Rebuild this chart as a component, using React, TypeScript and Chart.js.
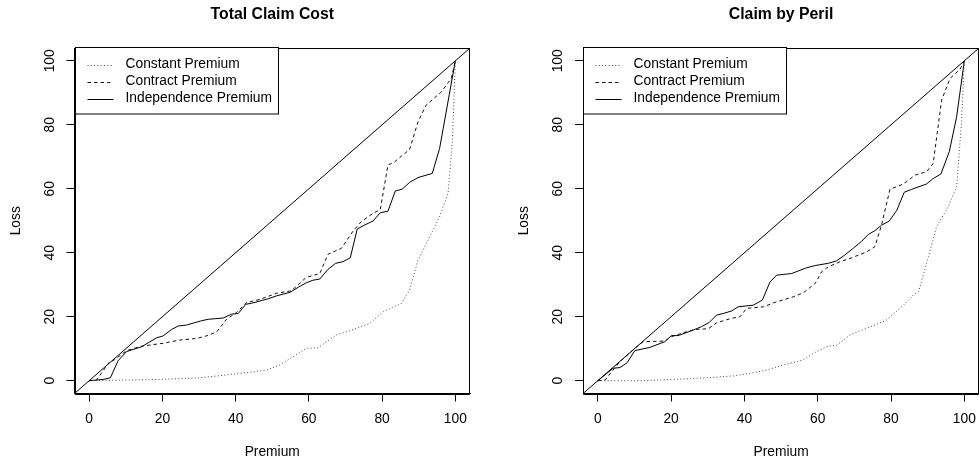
import React, { useEffect, useRef } from "react";
import { Chart, registerables } from "chart.js";

Chart.register(...registerables);

// ---- data ----
const titles = ["Total Claim Cost", "Claim by Peril"];
const legendLabels = ["Constant Premium", "Contract Premium", "Independence Premium"];
const tickValues = [0, 20, 40, 60, 80, 100];
const diagonal = [-4, 104];

const totalIndepX = [0, 3.8, 5.8, 7.9, 10.2, 14.3, 18.4, 20.2, 22.5, 24.3, 26.6, 30.7, 32.5, 36.6, 38.9, 40.7, 42.8, 44.3, 48.9, 51.1, 54.8, 57.1, 59.3, 61.1, 63, 65.2, 67.3, 69.3, 71.3, 73.2, 75.1, 77.5, 79.5, 81.6, 83.6, 85.5, 87.5, 89.8, 93.7, 95.7, 100];
const totalIndepY = [0, 0.4, 0.9, 6.25, 9.1, 10.6, 13.4, 14, 16, 17.1, 17.4, 18.75, 19.2, 19.6, 20.8, 21, 23.9, 24.2, 25.6, 26.5, 27.6, 29.2, 30.6, 31.4, 31.8, 34.8, 36.7, 37.2, 38.4, 47.4, 48.6, 49.9, 52.5, 53, 59.3, 59.9, 62, 63.5, 64.8, 72.6, 100];

const totalContractX = [0, 2, 5.6, 6.6, 10.2, 14.3, 20.2, 24.7, 29.3, 32, 34.8, 37.5, 40.2, 42.9, 46.6, 51.1, 55.2, 59.3, 63, 65.2, 68.9, 72.1, 74.3, 77.5, 79.5, 81.6, 83.4, 87.5, 89.8, 92, 96.2, 98.9, 100];
const totalContractY = [0, 0.2, 5.9, 6.25, 9.4, 10.8, 11.7, 12.7, 13.2, 14, 15.2, 19.2, 21.25, 24.4, 25.4, 27.3, 28.1, 32.3, 33.5, 39.5, 41.4, 46.8, 49.7, 52.3, 53.5, 67.4, 68.4, 72.3, 80.9, 86.1, 90.3, 94.5, 100];

const totalConstX = [0, 19.3, 30.2, 37.5, 42.9, 48.4, 52, 55.7, 59.3, 62.5, 67.5, 71.2, 76.6, 80.3, 85.3, 87.5, 89.8, 92.1, 95.7, 98, 99.2, 100];
const totalConstY = [0, 0.4, 0.9, 1.8, 2.5, 3.3, 4.9, 7.5, 10.1, 10.3, 14.3, 15.6, 17.9, 21.6, 24.2, 28.3, 37.7, 42.9, 51.25, 58.5, 75, 100];

const perilIndepX = [0, 4.2, 6.05, 8, 10.1, 14.2, 18.3, 20.1, 21.9, 26, 28.3, 30.4, 32.4, 34.2, 36.5, 38.3, 42.4, 44.9, 47, 48.8, 52.9, 54.7, 57, 59.3, 62.9, 65.2, 67.4, 69.7, 72, 73.8, 75.6, 77.4, 79.5, 81.6, 83.6, 85.6, 89.7, 91.5, 93.6, 95.9, 97.9, 100];
const perilIndepY = [0, 3.9, 4.1, 5.6, 9.4, 10.4, 12.2, 14.1, 14.1, 15.8, 16.9, 18.2, 20.5, 21, 21.8, 23.1, 23.6, 25.2, 30.9, 33, 33.5, 34.3, 35.3, 36, 36.7, 37.5, 39.3, 41.4, 43.6, 45.7, 46.9, 48.6, 49.9, 53.3, 58.9, 59.8, 61.5, 63.2, 64.6, 71.6, 82.5, 100];

const perilContractX = [0, 2, 3.8, 6, 10.1, 12.4, 16.1, 18.3, 20.1, 24.2, 26.5, 30.2, 32.4, 36.5, 38.8, 40.6, 45.2, 48.4, 53.4, 56.1, 59.3, 61.1, 62.9, 66.1, 68.8, 73.4, 75.6, 77.4, 79.7, 83.4, 86.6, 89.7, 91.5, 93.8, 96.1, 98.8, 100];
const perilContractY = [0, 0.2, 2.8, 5.9, 10.1, 12.2, 12.3, 12.4, 13.75, 15.3, 16, 16.25, 18.1, 19.5, 20, 22.6, 23.1, 24.5, 26.25, 27.5, 30.4, 34.1, 35.6, 37.2, 38.2, 40.3, 41.9, 48.6, 59.8, 61.5, 64.3, 65.3, 67.9, 87.7, 94.5, 97.3, 100];

const perilConstX = [0, 2, 12.4, 22.4, 29.7, 37, 41.5, 46, 50.6, 56, 59.7, 62.4, 65.2, 68.8, 72, 75.6, 78.8, 83.4, 86.1, 87.5, 90.2, 92.4, 95.6, 97.9, 99.2, 100];
const perilConstY = [0, 0, 0, 0.5, 0.9, 1.5, 2.3, 3.3, 4.9, 6.5, 9.1, 10.6, 11.1, 14.3, 15.8, 17.4, 19, 23.6, 26.8, 27.8, 38.75, 48.1, 54.4, 60.6, 80.4, 100];

const zip = (xs: number[], ys: number[]) => xs.map((x, i) => ({ x, y: ys[i] }));

const FONT = "'Liberation Sans', Arial, Helvetica, sans-serif";
const dashes: number[][] = [[1, 2.3], [3.5, 3], []];
const colors = ["#444", "#111", "#000"];

function makeOverlay(title: string) {
  return {
    id: "rframe",
    afterDraw(chart: any) {
      const { ctx, chartArea: a } = chart;
      const xs = chart.scales.x;
      const ys = chart.scales.y;
      ctx.save();
      // box
      ctx.strokeStyle = "#000";
      ctx.lineWidth = 1;
      ctx.beginPath();
      ctx.rect(Math.round(a.left) + 0.5, Math.round(a.top) + 0.5, Math.round(a.right) - Math.round(a.left) - 1, Math.round(a.bottom) - Math.round(a.top));
      ctx.stroke();
      ctx.fillStyle = "#000";
      // x tick labels
      ctx.font = `13.8px ${FONT}`;
      ctx.textAlign = "center";
      ctx.textBaseline = "middle";
      tickValues.forEach((v) => {
        ctx.fillText(String(v), xs.getPixelForValue(v), a.bottom + 26);
      });
      // y tick labels (rotated)
      tickValues.forEach((v) => {
        ctx.save();
        ctx.translate(a.left - 24.5, ys.getPixelForValue(v));
        ctx.rotate(-Math.PI / 2);
        ctx.fillText(String(v), 0, 0);
        ctx.restore();
      });
      // axis titles
      ctx.fillText("Premium", (a.left + a.right) / 2, a.bottom + 58.5);
      ctx.save();
      ctx.translate(a.left - 58.5, (a.top + a.bottom) / 2);
      ctx.rotate(-Math.PI / 2);
      ctx.fillText("Loss", 0, 0);
      ctx.restore();
      // main title
      ctx.font = `bold 15.8px ${FONT}`;
      ctx.fillText(title, (a.left + a.right) / 2, 15);
      // legend
      const lx = Math.round(a.left) + 0.5;
      const ly = Math.round(a.top) - 0.5;
      ctx.fillStyle = "#fff";
      ctx.fillRect(lx, ly, 203, 66.5);
      ctx.strokeStyle = "#000";
      ctx.strokeRect(lx, ly, 203, 66.5);
      ctx.font = `13.8px ${FONT}`;
      ctx.textAlign = "left";
      legendLabels.forEach((lab, i) => {
        const yy = ly + 17 + i * 17;
        ctx.strokeStyle = colors[i];
        ctx.setLineDash(dashes[i]);
        ctx.beginPath();
        ctx.moveTo(lx + 12, Math.round(yy) + 0.5);
        ctx.lineTo(lx + 38, Math.round(yy) + 0.5);
        ctx.stroke();
        ctx.setLineDash([]);
        ctx.fillStyle = "#000";
        ctx.fillText(lab, lx + 50, yy);
      });
      ctx.restore();
    },
  };
}

function RChart(props: { title: string; series: { x: number[]; y: number[] }[]; padLeft: number; padRight: number; width: number; left: number }) {
  const ref = useRef<HTMLCanvasElement>(null);
  useEffect(() => {
    const canvas = ref.current!;
    const axisBase = {
      type: "linear" as const,
      min: -4,
      max: 104,
      afterBuildTicks: (s: any) => {
        s.ticks = tickValues.map((v) => ({ value: v }));
      },
      ticks: { display: false },
      grid: { drawOnChartArea: false, drawTicks: true, tickLength: 8, color: "#000", lineWidth: 1 },
      border: { display: true, color: "#000", width: 1 },
    };
    const datasets: any[] = [
      {
        label: "diag",
        data: zip(diagonal, diagonal),
        borderColor: "#000",
        borderWidth: 1,
        pointRadius: 0,
      },
    ];
    props.series.forEach((s, i) => {
      datasets.push({
        label: legendLabels[i],
        data: zip(s.x, s.y),
        borderColor: colors[i],
        borderWidth: 1,
        borderDash: dashes[i],
        pointRadius: 0,
        tension: 0,
      });
    });
    const chart = new Chart(canvas, {
      type: "line",
      data: { datasets },
      options: {
        animation: false,
        responsive: false,
        devicePixelRatio: 1,
        parsing: false,
        layout: { padding: { left: props.padLeft, right: props.padRight, top: 48, bottom: 67.5 } },
        plugins: { legend: { display: false }, title: { display: false }, tooltip: { enabled: false } },
        scales: {
          x: { ...axisBase, position: "bottom", afterFit: (s: any) => { s.height = 0; } },
          y: { ...axisBase, position: "left", afterFit: (s: any) => { s.width = 0; } },
        },
      } as any,
      plugins: [makeOverlay(props.title)],
    });
    return () => chart.destroy();
  }, []);
  return (
    <canvas
      ref={ref}
      width={props.width}
      height={461}
      style={{ position: "absolute", left: props.left, top: 0, width: props.width, height: 461 }}
    />
  );
}

export default function App() {
  return (
    <div style={{ position: "fixed", left: 0, top: 0, width: 979, height: 461, background: "#fff", overflow: "hidden" }}>
      <RChart
        title={titles[0]}
        left={0}
        width={490}
        padLeft={74.5}
        padRight={20}
        series={[
          { x: totalConstX, y: totalConstY },
          { x: totalContractX, y: totalContractY },
          { x: totalIndepX, y: totalIndepY },
        ]}
      />
      <RChart
        title={titles[1]}
        left={489}
        width={490}
        padLeft={94.1}
        padRight={0}
        series={[
          { x: perilConstX, y: perilConstY },
          { x: perilContractX, y: perilContractY },
          { x: perilIndepX, y: perilIndepY },
        ]}
      />
    </div>
  );
}
